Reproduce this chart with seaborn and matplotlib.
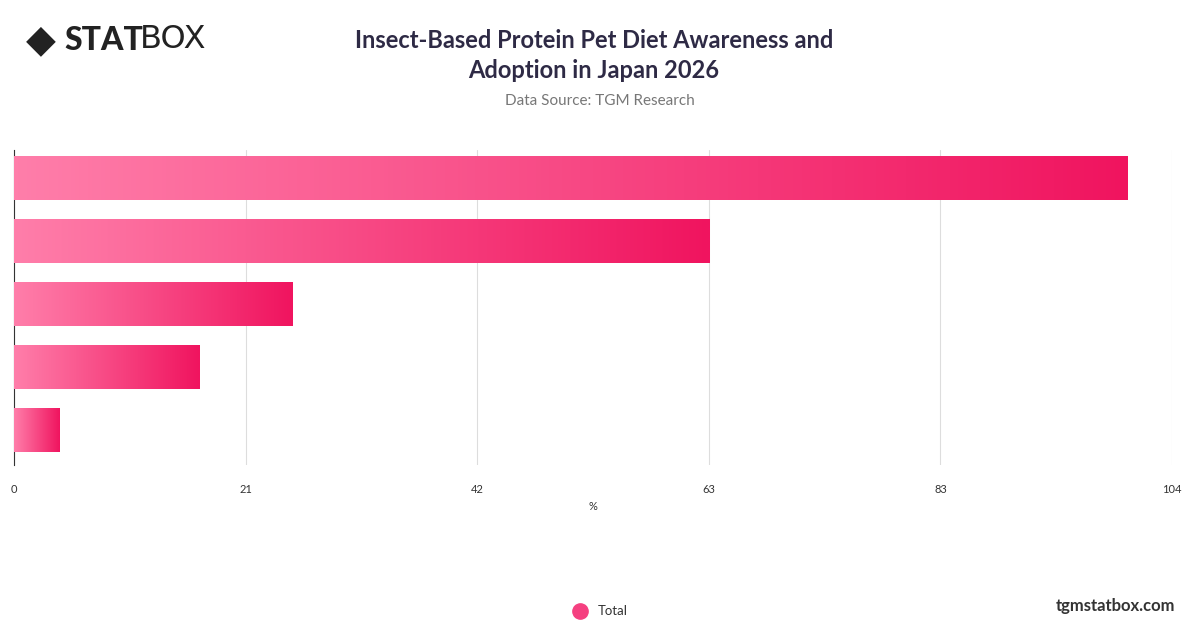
import numpy as np
import pandas as pd
import matplotlib
matplotlib.use("Agg")
import matplotlib.pyplot as plt
from matplotlib.colors import LinearSegmentedColormap
from matplotlib.lines import Line2D
import seaborn as sns

categories = ["A", "B", "C", "D", "E"]
values = [100.0, 62.5, 25.0, 16.7, 4.1]
tick_values = [0, 20.8, 41.6, 62.4, 83.2, 104]
tick_labels = ["0", "21", "42", "63", "83", "104"]

df = pd.DataFrame({"cat": categories, "val": values})

sns.set_theme(style="white")
plt.rcParams['font.family'] = ['Lato', 'DejaVu Sans']

fig = plt.figure(figsize=(12, 6.28), dpi=100)
ax = fig.add_axes([14/1200, 1-465/628, (1172-14)/1200, (465-150)/628])
sns.barplot(data=df, x="val", y="cat", orient="h", ax=ax, width=0.7, color="#f0145f")

cmap = LinearSegmentedColormap.from_list("pink", ["#ff7eaa", "#f0145f"])
grad = np.linspace(0, 1, 256).reshape(1, -1)
for p in ax.patches:
    x0, y0 = p.get_x(), p.get_y()
    w, h = p.get_width(), p.get_height()
    im = ax.imshow(grad, cmap=cmap, aspect="auto", extent=[x0, x0 + w, y0 + h, y0], zorder=3)
    im.set_clip_path(p)
    p.set_alpha(0)

ax.set_xlim(0, 104)
ax.set_ylim(4.55, -0.45)
ax.set_xticks(tick_values)
ax.set_xticklabels(tick_labels, fontsize=8, color="#333333")
ax.set_yticks([])
ax.set_ylabel("")
ax.set_xlabel("%", fontsize=8, color="#333333", labelpad=4)
ax.grid(axis="x", color="#dddddd", linewidth=0.8)
ax.set_axisbelow(True)
for s in ["top", "right", "bottom"]:
    ax.spines[s].set_visible(False)
ax.spines["left"].set_color("#333333")
ax.spines["left"].set_linewidth(0.8)
ax.tick_params(axis="x", length=0, pad=14)

fig.text(0.495, 1-40/628, "Insect-Based Protein Pet Diet Awareness and", ha="center", va="center",
         fontsize=17, fontweight="bold", color="#2e2a45")
fig.text(0.495, 1-71/628, "Adoption in Japan 2026", ha="center", va="center",
         fontsize=17, fontweight="bold", color="#2e2a45")
fig.text(0.5, 1-101/628, "Data Source: TGM Research", ha="center", va="center",
         fontsize=11, color="#777777")

# logo
fig.text(26/1200, 1-40/628, "◆", ha="left", va="center", fontsize=28, color="#222222",
         family="DejaVu Sans")
fig.text(64/1200, 1-40/628, "STAT", ha="left", va="center", fontsize=23, fontweight="black", color="#222222")
fig.text(140/1200, 1-40/628, "BOX", ha="left", va="center", fontsize=23, fontweight="normal",
         color="#222222", family=["DejaVu Sans"])

fig.text(1175/1200, 1-606/628, "tgmstatbox.com", ha="right", va="center", fontsize=12,
         fontweight="bold", color="#333333")
fig.add_artist(Line2D([580/1200], [1-611/628], marker="o", markersize=11, color="#f54080",
                      transform=fig.transFigure))
fig.text(598/1200, 1-611/628, "Total", ha="left", va="center", fontsize=9.5, color="#333333")

fig.savefig("out.png", dpi=100)
